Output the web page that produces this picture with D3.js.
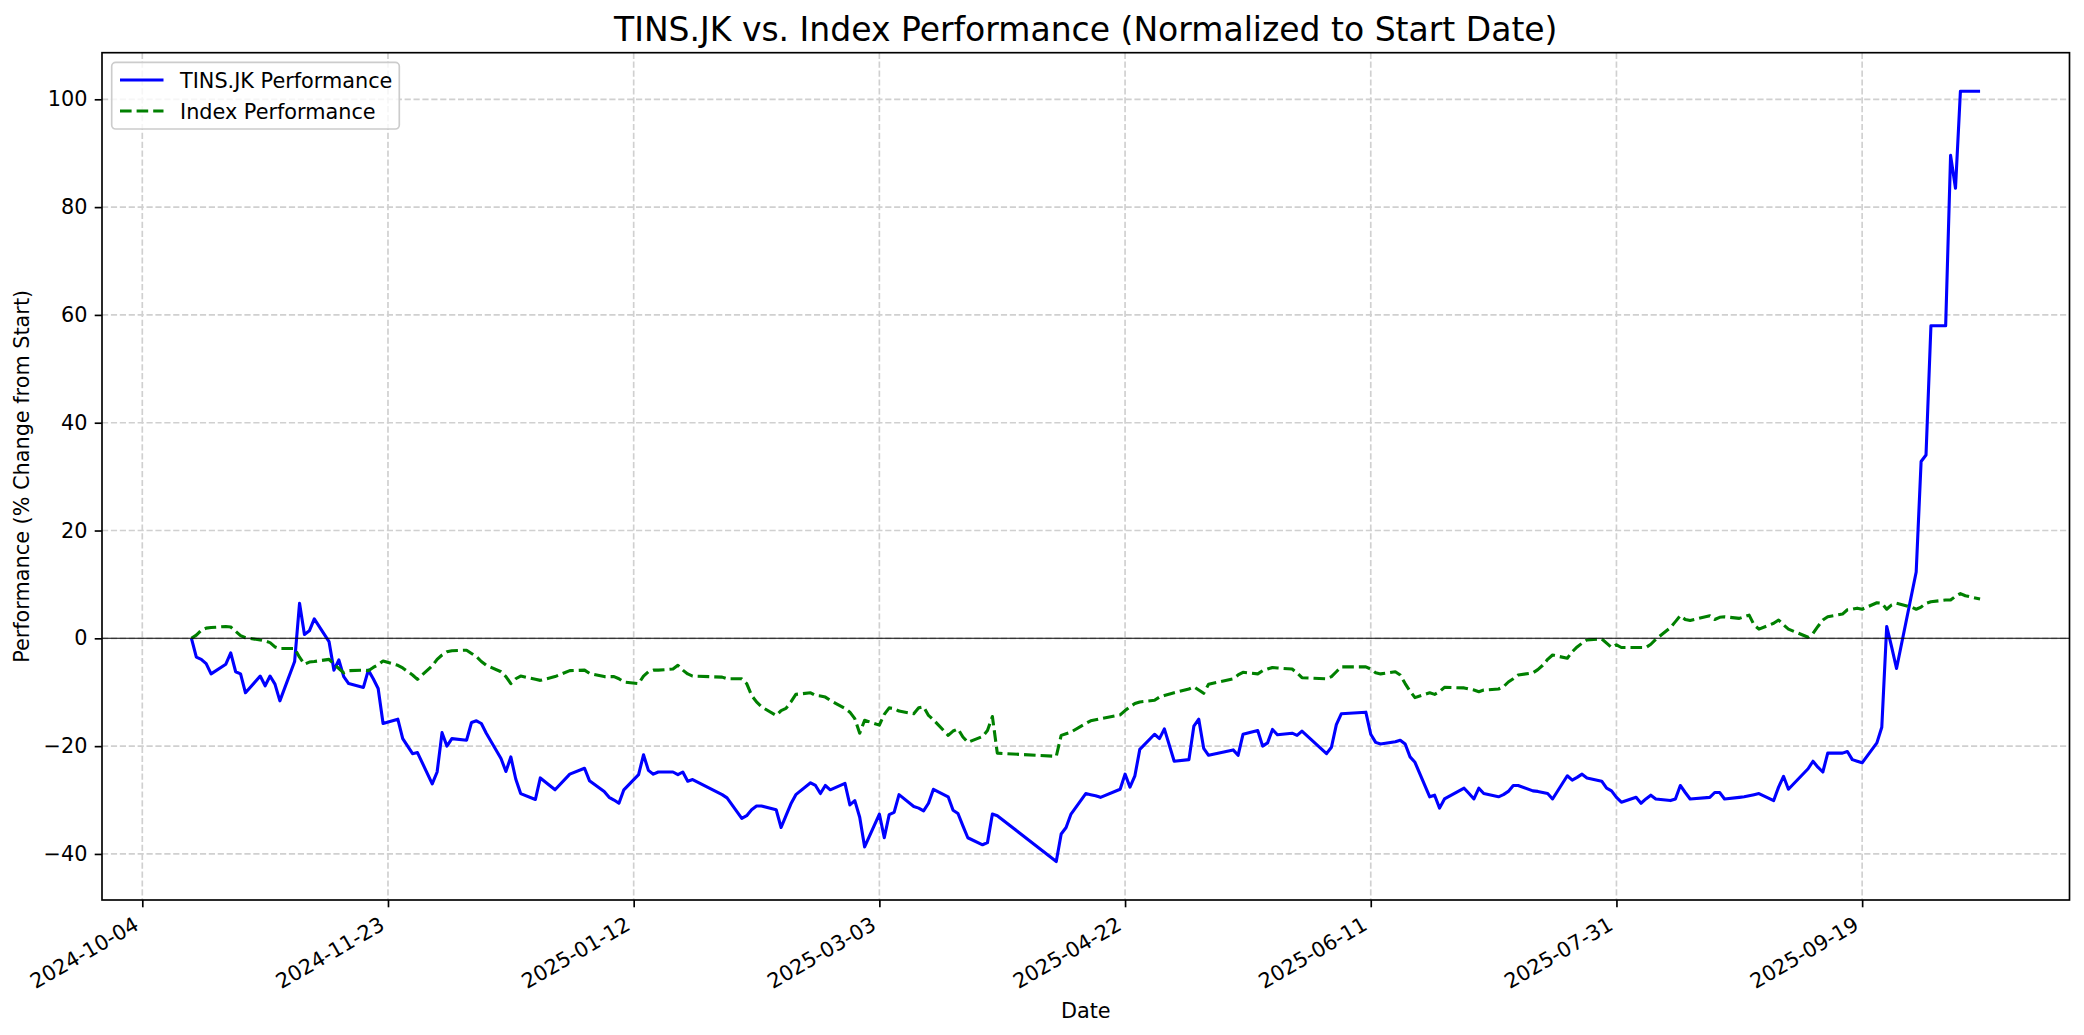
<!DOCTYPE html>
<html>
<head>
<meta charset="utf-8">
<script src="https://cdn.jsdelivr.net/npm/d3@7"></script>
<style>
  body { margin: 0; background: #fff; }
  svg { display: block; font-family: 'DejaVu Sans', sans-serif; }
</style>
</head>
<body>
<svg width="2084" height="1035"></svg>
<script>
// TINS.JK daily performance (% change from start)
const tinsDates = [
  '2024-10-14','2024-10-15','2024-10-16','2024-10-17','2024-10-18','2024-10-21','2024-10-22','2024-10-23','2024-10-24','2024-10-25',
  '2024-10-28','2024-10-29','2024-10-30','2024-10-31','2024-11-01','2024-11-04','2024-11-05','2024-11-06','2024-11-07','2024-11-08',
  '2024-11-11','2024-11-12','2024-11-13','2024-11-14','2024-11-15','2024-11-18','2024-11-19','2024-11-20','2024-11-21','2024-11-22',
  '2024-11-25','2024-11-26','2024-11-28','2024-11-29','2024-12-02','2024-12-03','2024-12-04','2024-12-05','2024-12-06','2024-12-09',
  '2024-12-10','2024-12-11','2024-12-12','2024-12-13','2024-12-16','2024-12-17','2024-12-18','2024-12-19','2024-12-20','2024-12-23',
  '2024-12-24','2024-12-27','2024-12-30','2025-01-02','2025-01-03','2025-01-06','2025-01-07','2025-01-08','2025-01-09','2025-01-10',
  '2025-01-13','2025-01-14','2025-01-15','2025-01-16','2025-01-17','2025-01-20','2025-01-21','2025-01-22','2025-01-23','2025-01-24',
  '2025-01-30','2025-01-31','2025-02-03','2025-02-04','2025-02-05','2025-02-06','2025-02-07','2025-02-10','2025-02-11','2025-02-12',
  '2025-02-13','2025-02-14','2025-02-17','2025-02-18','2025-02-19','2025-02-20','2025-02-21','2025-02-24','2025-02-25','2025-02-26',
  '2025-02-27','2025-02-28','2025-03-03','2025-03-04','2025-03-05','2025-03-06','2025-03-07','2025-03-10','2025-03-11','2025-03-12',
  '2025-03-13','2025-03-14','2025-03-17','2025-03-18','2025-03-19','2025-03-20','2025-03-21','2025-03-24','2025-03-25','2025-03-26',
  '2025-03-27','2025-04-08','2025-04-09','2025-04-10','2025-04-11','2025-04-14','2025-04-15','2025-04-16','2025-04-17','2025-04-21',
  '2025-04-22','2025-04-23','2025-04-24','2025-04-25','2025-04-28','2025-04-29','2025-04-30','2025-05-02','2025-05-05','2025-05-06',
  '2025-05-07','2025-05-08','2025-05-09','2025-05-14','2025-05-15','2025-05-16','2025-05-19','2025-05-20','2025-05-21','2025-05-22',
  '2025-05-23','2025-05-26','2025-05-27','2025-05-28','2025-06-02','2025-06-03','2025-06-04','2025-06-05','2025-06-10','2025-06-11',
  '2025-06-12','2025-06-13','2025-06-16','2025-06-17','2025-06-18','2025-06-19','2025-06-20','2025-06-23','2025-06-24','2025-06-25',
  '2025-06-26','2025-06-30','2025-07-01','2025-07-02','2025-07-03','2025-07-04','2025-07-07','2025-07-08','2025-07-09','2025-07-10',
  '2025-07-11','2025-07-14','2025-07-15','2025-07-16','2025-07-17','2025-07-18','2025-07-21','2025-07-22','2025-07-23','2025-07-24',
  '2025-07-25','2025-07-28','2025-07-29','2025-07-30','2025-07-31','2025-08-01','2025-08-04','2025-08-05','2025-08-06','2025-08-07',
  '2025-08-08','2025-08-11','2025-08-12','2025-08-13','2025-08-14','2025-08-15','2025-08-19','2025-08-20','2025-08-21','2025-08-22',
  '2025-08-25','2025-08-26','2025-08-27','2025-08-28','2025-08-29','2025-09-01','2025-09-02','2025-09-03','2025-09-04','2025-09-08',
  '2025-09-09','2025-09-10','2025-09-11','2025-09-12','2025-09-15','2025-09-16','2025-09-17','2025-09-18','2025-09-19','2025-09-22',
  '2025-09-23','2025-09-24','2025-09-25','2025-09-26','2025-09-30','2025-10-01','2025-10-02','2025-10-03','2025-10-06','2025-10-07',
  '2025-10-08','2025-10-09','2025-10-10','2025-10-13'
];
const tinsPerf = [
  0, -3.5, -3.9, -4.7, -6.6, -4.8, -2.7, -6.2, -6.6, -10.1,
  -7.0, -8.8, -7.0, -8.5, -11.6, -4.3, 6.5, 0.7, 1.4, 3.6,
  -0.6, -5.9, -4.0, -7.1, -8.4, -9.1, -5.9, -7.5, -9.3, -15.8,
  -15.0, -18.6, -21.4, -21.2, -27.0, -24.8, -17.5, -20.0, -18.6, -18.9,
  -15.6, -15.3, -15.8, -17.6, -22.3, -24.7, -22.0, -26.1, -28.8, -29.9,
  -25.9, -28.1, -25.2, -24.1, -26.4, -28.4, -29.5, -30.0, -30.6, -28.1,
  -25.3, -21.6, -24.5, -25.2, -24.8, -24.8, -25.3, -24.8, -26.5, -26.2,
  -29.0, -29.6, -33.4, -32.9, -31.8, -31.1, -31.1, -31.8, -35.1, -32.9,
  -30.7, -29.0, -26.8, -27.3, -28.8, -27.3, -28.1, -26.9, -30.9, -30.1,
  -33.2, -38.7, -32.6, -37.0, -32.7, -32.3, -29.0, -31.2, -31.5, -32.0,
  -30.6, -28.0, -29.4, -31.9, -32.5, -34.8, -37.0, -38.3, -37.9, -32.6,
  -32.9, -41.4, -36.3, -35.1, -32.6, -28.8, -29.0, -29.2, -29.5, -28.0,
  -25.2, -27.6, -25.5, -20.6, -17.8, -18.6, -16.8, -22.8, -22.5, -16.3,
  -15.0, -20.4, -21.7, -20.7, -21.7, -17.8, -17.1, -20.0, -19.4, -16.9,
  -17.9, -17.6, -18.0, -17.2, -21.4, -20.2, -16.0, -14.0, -13.7, -17.8,
  -19.3, -19.6, -19.2, -18.9, -19.6, -22.0, -23.0, -29.4, -29.1, -31.5,
  -29.8, -27.8, -28.8, -29.8, -27.8, -28.8, -29.4, -29.0, -28.4, -27.3,
  -27.3, -28.3, -28.4, -28.6, -28.8, -29.8, -25.5, -26.3, -25.8, -25.2,
  -25.9, -26.5, -27.8, -28.3, -29.5, -30.4, -29.5, -30.6, -29.8, -29.1,
  -29.8, -30.1, -29.8, -27.3, -28.6, -29.8, -29.5, -28.6, -28.6, -29.8,
  -29.5, -29.4, -29.2, -29.0, -28.8, -30.1, -27.6, -25.6, -28.0, -24.2,
  -22.8, -23.9, -24.8, -21.3, -21.3, -21.0, -22.5, -22.8, -23.1, -19.4,
  -16.5, 2.2, -1.6, -5.6, 12.3, 32.8, 34.0, 58.0, 58.0, 89.6,
  83.5, 101.5, 101.5, 101.5
];

// Index performance (% change from start)
const indexDates = [
  '2024-10-14','2024-10-15','2024-10-16','2024-10-17','2024-10-18','2024-10-21','2024-10-22','2024-10-23','2024-10-24','2024-10-25',
  '2024-10-28','2024-10-29','2024-10-30','2024-10-31','2024-11-01','2024-11-04','2024-11-05','2024-11-06','2024-11-07','2024-11-08',
  '2024-11-11','2024-11-12','2024-11-13','2024-11-14','2024-11-15','2024-11-18','2024-11-19','2024-11-20','2024-11-21','2024-11-22',
  '2024-11-25','2024-11-26','2024-11-28','2024-11-29','2024-12-02','2024-12-03','2024-12-04','2024-12-05','2024-12-06','2024-12-09',
  '2024-12-10','2024-12-11','2024-12-12','2024-12-13','2024-12-16','2024-12-17','2024-12-18','2024-12-19','2024-12-20','2024-12-23',
  '2024-12-24','2024-12-27','2024-12-30','2025-01-02','2025-01-03','2025-01-06','2025-01-07','2025-01-08','2025-01-09','2025-01-10',
  '2025-01-13','2025-01-14','2025-01-15','2025-01-16','2025-01-17','2025-01-20','2025-01-21','2025-01-22','2025-01-23','2025-01-24',
  '2025-01-30','2025-01-31','2025-02-03','2025-02-04','2025-02-05','2025-02-06','2025-02-07','2025-02-10','2025-02-11','2025-02-12',
  '2025-02-13','2025-02-14','2025-02-17','2025-02-18','2025-02-19','2025-02-20','2025-02-21','2025-02-24','2025-02-25','2025-02-26',
  '2025-02-27','2025-02-28','2025-03-03','2025-03-04','2025-03-05','2025-03-06','2025-03-07','2025-03-10','2025-03-11','2025-03-12',
  '2025-03-13','2025-03-14','2025-03-17','2025-03-18','2025-03-19','2025-03-20','2025-03-21','2025-03-24','2025-03-25','2025-03-26',
  '2025-03-27','2025-04-08','2025-04-09','2025-04-10','2025-04-11','2025-04-14','2025-04-15','2025-04-16','2025-04-17','2025-04-21',
  '2025-04-22','2025-04-23','2025-04-24','2025-04-25','2025-04-28','2025-04-29','2025-04-30','2025-05-02','2025-05-05','2025-05-06',
  '2025-05-07','2025-05-08','2025-05-09','2025-05-14','2025-05-15','2025-05-16','2025-05-19','2025-05-20','2025-05-21','2025-05-22',
  '2025-05-23','2025-05-26','2025-05-27','2025-05-28','2025-06-02','2025-06-03','2025-06-04','2025-06-05','2025-06-10','2025-06-11',
  '2025-06-12','2025-06-13','2025-06-16','2025-06-17','2025-06-18','2025-06-19','2025-06-20','2025-06-23','2025-06-24','2025-06-25',
  '2025-06-26','2025-06-30','2025-07-01','2025-07-02','2025-07-03','2025-07-04','2025-07-07','2025-07-08','2025-07-09','2025-07-10',
  '2025-07-11','2025-07-14','2025-07-15','2025-07-16','2025-07-17','2025-07-18','2025-07-21','2025-07-22','2025-07-23','2025-07-24',
  '2025-07-25','2025-07-28','2025-07-29','2025-07-30','2025-07-31','2025-08-01','2025-08-04','2025-08-05','2025-08-06','2025-08-07',
  '2025-08-08','2025-08-11','2025-08-12','2025-08-13','2025-08-14','2025-08-15','2025-08-19','2025-08-20','2025-08-21','2025-08-22',
  '2025-08-25','2025-08-26','2025-08-27','2025-08-28','2025-08-29','2025-09-01','2025-09-02','2025-09-03','2025-09-04','2025-09-08',
  '2025-09-09','2025-09-10','2025-09-11','2025-09-12','2025-09-15','2025-09-16','2025-09-17','2025-09-18','2025-09-19','2025-09-22',
  '2025-09-23','2025-09-24','2025-09-25','2025-09-26','2025-09-29','2025-09-30','2025-10-01','2025-10-02','2025-10-03','2025-10-06',
  '2025-10-07','2025-10-08','2025-10-09','2025-10-10','2025-10-13'
];
const indexPerf = [
  0, 0.6, 1.5, 1.9, 2.0, 2.2, 2.1, 1.3, 0.5, 0.1,
  -0.3, -0.5, -0.8, -1.6, -1.9, -1.9, -3.5, -4.8, -4.4, -4.3,
  -3.9, -4.8, -5.6, -6.4, -6.0, -5.9, -6.0, -5.4, -4.9, -4.2,
  -5.0, -5.5, -6.8, -7.6, -5.1, -3.9, -3.1, -2.5, -2.3, -2.2,
  -2.8, -3.4, -4.3, -5.0, -6.2, -7.1, -8.4, -7.5, -7.0, -7.6,
  -7.8, -7.1, -6.0, -5.9, -6.5, -7.1, -7.1, -7.1, -7.5, -8.1,
  -8.4, -7.0, -6.2, -5.9, -5.9, -5.7, -5.0, -5.9, -6.6, -7.0,
  -7.2, -7.5, -7.5, -8.4, -10.6, -11.8, -12.7, -14.3, -13.4, -13.0,
  -11.8, -10.4, -10.1, -10.6, -10.7, -10.9, -11.5, -13.0, -13.7, -14.9,
  -17.6, -15.2, -16.1, -14.1, -12.9, -13.0, -13.5, -14.0, -12.9, -12.7,
  -14.3, -15.1, -18.0, -17.2, -16.8, -18.3, -19.3, -18.2, -17.1, -14.5,
  -21.3, -21.9, -18.0, -17.7, -17.4, -15.8, -15.3, -15.1, -14.9, -14.2,
  -13.4, -12.7, -12.1, -11.8, -11.5, -10.9, -10.6, -10.1, -9.4, -9.0,
  -9.6, -10.2, -8.5, -7.5, -6.8, -6.3, -6.6, -6.0, -5.7, -5.4,
  -5.5, -5.7, -6.4, -7.3, -7.5, -7.1, -6.2, -5.3, -5.3, -5.7,
  -6.4, -6.6, -6.2, -6.8, -8.4, -9.8, -11.0, -10.1, -10.4, -9.9,
  -9.1, -9.2, -9.4, -9.6, -9.9, -9.6, -9.4, -9.0, -8.1, -7.5,
  -6.8, -6.4, -5.8, -5.0, -3.9, -3.1, -3.7, -2.5, -1.6, -0.9,
  -0.3, -0.1, -0.9, -1.7, -1.2, -1.7, -1.7, -1.7, -1.7, -1.1,
  -0.2, 2.0, 3.1, 4.2, 3.5, 3.3, 4.2, 3.5, 3.9, 4.0,
  3.7, 4.0, 4.3, 2.5, 1.7, 2.8, 3.4, 2.5, 1.7, 0.2,
  0.9, 2.2, 3.4, 4.0, 4.5, 5.3, 5.4, 5.6, 5.4, 6.6,
  6.5, 5.4, 6.2, 6.5, 5.8, 5.4, 5.8, 6.5, 6.8, 7.1,
  7.1, 7.8, 8.3, 7.9, 7.3
];

const xTickDates = ['2024-10-04','2024-11-23','2025-01-12','2025-03-03','2025-04-22','2025-06-11','2025-07-31','2025-09-19'];
const yTickValues = [-40, -20, 0, 20, 40, 60, 80, 100];

let parseTime = d3.timeParse('%Y-%m-%d');
let tins = tinsDates.map((d, i) => ({date: parseTime(d), value: tinsPerf[i]}));
let index = indexDates.map((d, i) => ({date: parseTime(d), value: indexPerf[i]}));
let xTicks = xTickDates.map(parseTime);

let svg = d3.select('svg');
let margin = {top: 52.7, right: 14.5, bottom: 135, left: 102};
let W = +svg.attr('width'), H = +svg.attr('height');
let x0 = margin.left, x1 = W - margin.right, y0 = H - margin.bottom, y1 = margin.top;

// matplotlib-like 5% margins around the data
let allDates = tins.concat(index).map(d => +d.date);
let allVals = tins.concat(index).map(d => d.value);
let dMin = d3.min(allDates), dMax = d3.max(allDates);
let vMin = d3.min(allVals), vMax = d3.max(allVals);
let dPad = (dMax - dMin) * 0.05, vPad = (vMax - vMin) * 0.05;

let x = d3.scaleTime().domain([new Date(dMin - dPad), new Date(dMax + dPad)]).range([x0, x1]);
let y = d3.scaleLinear().domain([vMin - vPad, vMax + vPad]).range([y0, y1]);

let gridColor = '#d0d0d0';

// grid
let grid = svg.append('g');
grid.selectAll('.vg').data(xTicks).enter().append('line')
  .attr('x1', d => x(d)).attr('x2', d => x(d))
  .attr('y1', y1).attr('y2', y0)
  .attr('stroke', gridColor).attr('stroke-width', 1.67)
  .attr('stroke-dasharray', '6.2,2.7');
grid.selectAll('.hg').data(yTickValues).enter().append('line')
  .attr('x1', x0).attr('x2', x1)
  .attr('y1', d => y(d)).attr('y2', d => y(d))
  .attr('stroke', gridColor).attr('stroke-width', 1.67)
  .attr('stroke-dasharray', '6.2,2.7');

let line = d3.line()
  .x(d => x(d.date))
  .y(d => y(d.value));

svg.append('path')
  .datum(tins)
  .attr('fill', 'none')
  .attr('stroke', '#0000ff')
  .attr('stroke-width', 3.1)
  .attr('stroke-linejoin', 'round')
  .attr('d', line);

svg.append('path')
  .datum(index)
  .attr('fill', 'none')
  .attr('stroke', '#008000')
  .attr('stroke-width', 3.1)
  .attr('stroke-linejoin', 'round')
  .attr('stroke-dasharray', '11.6,5')
  .attr('d', line);

// zero line
svg.append('line')
  .attr('x1', x0).attr('x2', x1)
  .attr('y1', y(0)).attr('y2', y(0))
  .attr('stroke', '#000').attr('stroke-width', 1.05);

// axes
let xAxis = svg.append('g')
  .attr('transform', 'translate(0,' + y0 + ')')
  .call(d3.axisBottom(x).tickValues(xTicks).tickFormat(d3.timeFormat('%Y-%m-%d')).tickSize(7.3).tickPadding(7.3));
xAxis.select('.domain').remove();
xAxis.selectAll('line').attr('stroke', '#000').attr('stroke-width', 1.67);
xAxis.selectAll('text')
  .attr('font-size', 20.8).attr('font-family', "'DejaVu Sans', sans-serif").attr('fill', '#000')
  .attr('text-anchor', 'end')
  .attr('y', 0).attr('dy', 0)
  .attr('transform', 'translate(-2.5,28.7) rotate(-30)');

let yAxis = svg.append('g')
  .attr('transform', 'translate(' + x0 + ',0)')
  .call(d3.axisLeft(y).tickValues(yTickValues).tickSize(7.3).tickPadding(7.3));
yAxis.select('.domain').remove();
yAxis.selectAll('line').attr('stroke', '#000').attr('stroke-width', 1.67);
yAxis.selectAll('text')
  .attr('font-size', 20.8).attr('font-family', "'DejaVu Sans', sans-serif").attr('fill', '#000');

// frame
svg.append('rect')
  .attr('x', x0).attr('y', y1)
  .attr('width', x1 - x0).attr('height', y0 - y1)
  .attr('fill', 'none').attr('stroke', '#000').attr('stroke-width', 1.67);

// labels
svg.append('text')
  .attr('x', (x0 + x1) / 2).attr('y', 41)
  .attr('text-anchor', 'middle').attr('font-size', 33)
  .text('TINS.JK vs. Index Performance (Normalized to Start Date)');

svg.append('text')
  .attr('x', (x0 + x1) / 2).attr('y', 1018)
  .attr('text-anchor', 'middle').attr('font-size', 20.8)
  .text('Date');

svg.append('text')
  .attr('transform', 'translate(29,' + (y0 + y1) / 2 + ') rotate(-90)')
  .attr('text-anchor', 'middle').attr('font-size', 20.8)
  .text('Performance (% Change from Start)');

// legend
let legend = svg.append('g');
legend.append('rect')
  .attr('x', 111.7).attr('y', 62.3).attr('width', 287.6).attr('height', 66.7)
  .attr('rx', 4).attr('fill', '#fff').attr('fill-opacity', 0.8)
  .attr('stroke', '#cccccc').attr('stroke-width', 1.67);
let items = [
  {label: 'TINS.JK Performance', color: '#0000ff', dash: null},
  {label: 'Index Performance', color: '#008000', dash: '11.6,5'}
];
items.forEach((it, i) => {
  let cy = 80 + i * 31;
  legend.append('line')
    .attr('x1', 120).attr('x2', 163.5).attr('y1', cy).attr('y2', cy)
    .attr('stroke', it.color).attr('stroke-width', 3.1)
    .attr('stroke-dasharray', it.dash);
  legend.append('text')
    .attr('x', 180).attr('y', cy + 7.5)
    .attr('font-size', 20.8)
    .text(it.label);
});
</script>
</body>
</html>
